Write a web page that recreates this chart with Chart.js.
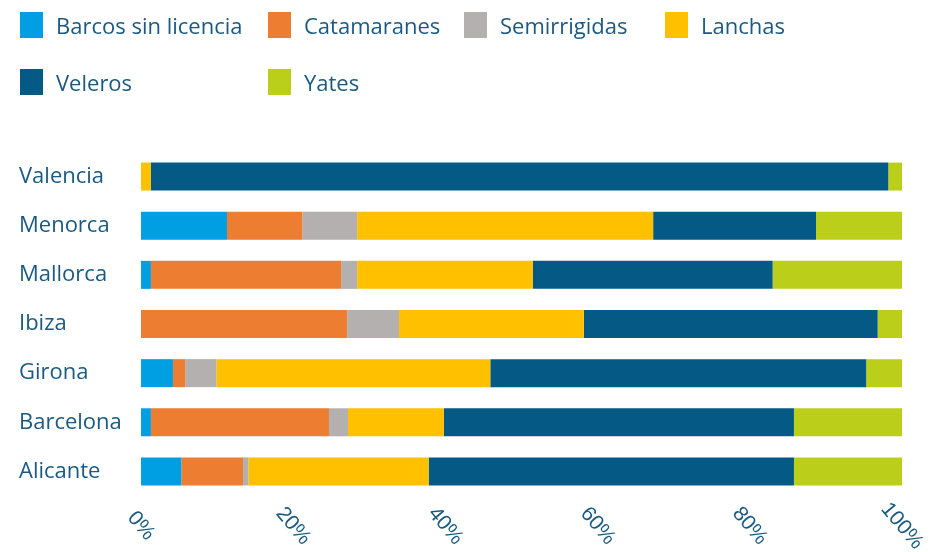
<!DOCTYPE html>
<html>
<head>
<meta charset="utf-8">
<script src="https://cdn.jsdelivr.net/npm/chart.js@4"></script>
<style>
  body { margin: 0; background: #fff; }
  #wrap { position: relative; width: 937px; height: 552px; }
  #legend .item {
    position: absolute; display: flex; align-items: center; height: 26px;
    font: 22px "Open Sans"; line-height: 26px; color: #1a5a82; white-space: nowrap;
  }
  #legend .box { width: 23px; height: 26px; margin-right: 13px; }
</style>
</head>
<body>
<div id="wrap">
  <canvas id="chart" width="937" height="552"></canvas>
  <div id="legend"></div>
</div>
<script>
// data (share in %)
const regions = ['Valencia', 'Menorca', 'Mallorca', 'Ibiza', 'Girona', 'Barcelona', 'Alicante'];
const barcos = [0, 11.3, 1.3, 0, 4.2, 1.3, 5.3];
const catamaranes = [0, 9.9, 25.0, 27.1, 1.6, 23.4, 8.1];
const semirrigidas = [0, 7.2, 2.1, 6.8, 4.1, 2.5, 0.7];
const lanchas = [1.3, 38.9, 23.1, 24.3, 36.0, 12.6, 23.7];
const veleros = [96.9, 21.4, 31.5, 38.6, 49.4, 46.0, 48.0];
const yates = [1.8, 11.3, 17.0, 3.2, 4.7, 14.2, 14.2];

const tickValues = [0, 20, 40, 60, 80, 100];
const tickLabels = ['0%', '20%', '40%', '60%', '80%', '100%'];

const textColor = '#1a5a82';

// x labels are rotated clockwise, chart.js can't do that so draw them here
const xLabels = {
  id: 'xLabels',
  afterDraw(chart) {
    const ctx = chart.ctx;
    const x = chart.scales.x;
    ctx.save();
    ctx.font = '21px "Liberation Sans"';
    ctx.fillStyle = textColor;
    ctx.textAlign = 'center';
    ctx.textBaseline = 'middle';
    tickValues.forEach((v, i) => {
      ctx.save();
      ctx.translate(x.getPixelForValue(v), 526);
      ctx.rotate(50 * Math.PI / 180);
      ctx.fillText(tickLabels[i], 0, 0);
      ctx.restore();
    });
    ctx.restore();
  }
};

function makeLegend(chart) {
  const cols = [20, 268, 464, 665];
  const rows = [12, 69];
  const el = document.getElementById('legend');
  chart.data.datasets.forEach((ds, i) => {
    const item = document.createElement('div');
    item.className = 'item';
    item.style.left = cols[i % 4] + 'px';
    item.style.top = rows[Math.floor(i / 4)] + 'px';
    const box = document.createElement('span');
    box.className = 'box';
    box.style.background = ds.backgroundColor;
    const label = document.createElement('span');
    label.textContent = ds.label;
    item.appendChild(box);
    item.appendChild(label);
    el.appendChild(item);
  });
}

function draw() {
  Chart.defaults.font.family = '"Open Sans"';

  const chart = new Chart(document.getElementById('chart'), {
    type: 'bar',
    data: {
      labels: regions,
      datasets: [
        { label: 'Barcos sin licencia', data: barcos, backgroundColor: '#009fe3' },
        { label: 'Catamaranes', data: catamaranes, backgroundColor: '#ed7d31' },
        { label: 'Semirrigidas', data: semirrigidas, backgroundColor: '#b4b0af' },
        { label: 'Lanchas', data: lanchas, backgroundColor: '#ffc000' },
        { label: 'Veleros', data: veleros, backgroundColor: '#055a85' },
        { label: 'Yates', data: yates, backgroundColor: '#bbce19' },
      ],
    },
    options: {
      indexAxis: 'y',
      responsive: false,
      animation: false,
      datasets: {
        bar: { barPercentage: 0.57, categoryPercentage: 1, borderWidth: 0 }
      },
      layout: { padding: { left: 19, right: 35, top: 152, bottom: 56 } },
      plugins: {
        legend: { display: false },
        tooltip: { enabled: false },
      },
      scales: {
        x: { stacked: true, min: 0, max: 100, display: false },
        y: {
          stacked: true,
          grid: { display: false },
          border: { display: false },
          ticks: { font: { size: 22 }, color: textColor, crossAlign: 'far', padding: 0 },
          afterFit: (s) => { s.width = 122; },
        },
      },
    },
    plugins: [xLabels],
  });

  makeLegend(chart);
}

Promise.all([
  document.fonts.load('22px "Open Sans"'),
  document.fonts.load('21px "Liberation Sans"'),
]).then(draw, draw);
</script>
</body>
</html>
